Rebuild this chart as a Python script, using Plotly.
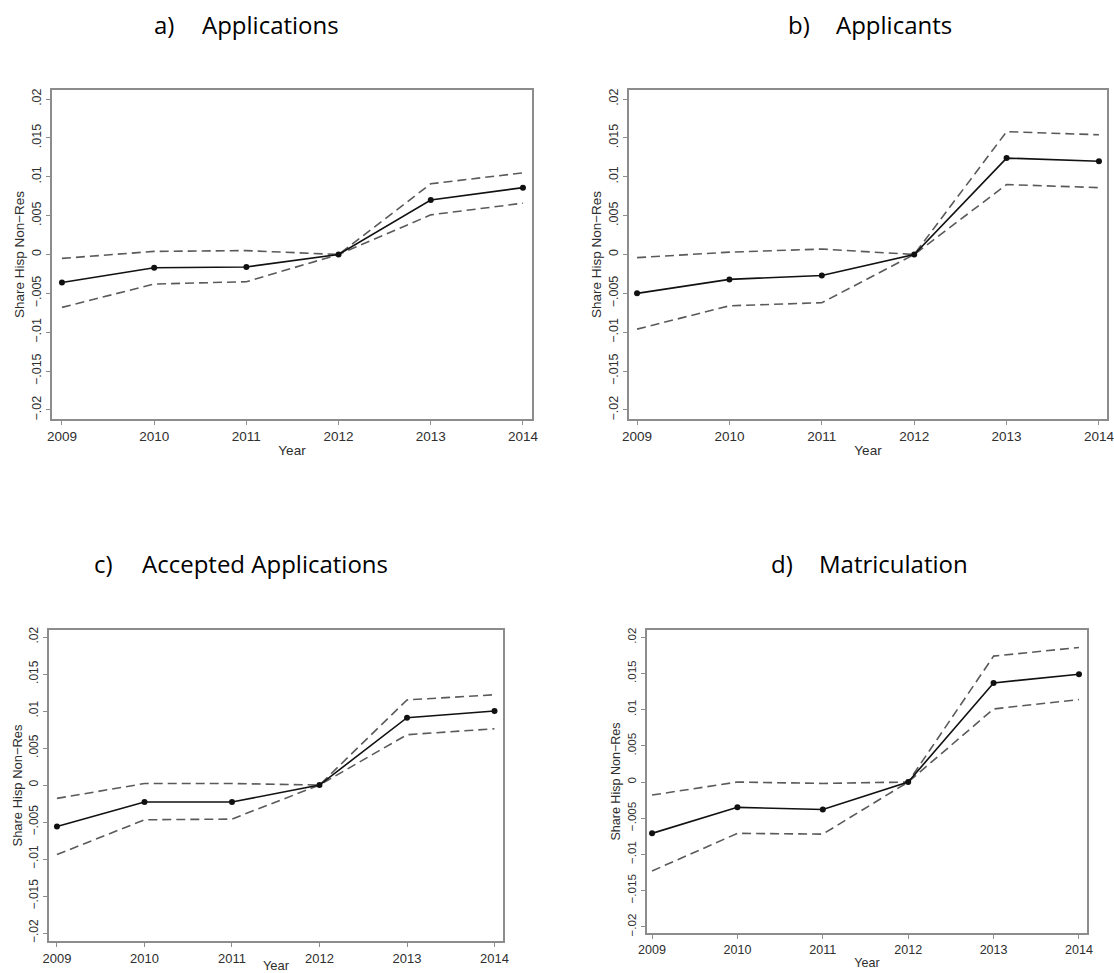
import plotly.graph_objects as go

# ---------------- data ----------------
years = [2009, 2010, 2011, 2012, 2013, 2014]
year_labels = ["2009", "2010", "2011", "2012", "2013", "2014"]

y_tick_vals = [0.02, 0.015, 0.01, 0.005, 0.0, -0.005, -0.01, -0.015, -0.02]
y_tick_text = [".02", ".015", ".01", ".005", "0", "\u2212.005", "\u2212.01", "\u2212.015", "\u2212.02"]

panel_letters = ["a)", "b)", "c)", "d)"]
panel_names = ["Applications", "Applicants", "Accepted Applications", "Matriculation"]

a_mean = [-0.0036, -0.0017, -0.0016, 0.0, 0.0070, 0.0086]
a_upper = [-0.0005, 0.0004, 0.0005, 0.0, 0.0091, 0.0105]
a_lower = [-0.0068, -0.0038, -0.0035, 0.0, 0.0051, 0.0066]

b_mean = [-0.0050, -0.0032, -0.0027, 0.0, 0.0124, 0.0120]
b_upper = [-0.0004, 0.0003, 0.0007, 0.0, 0.0158, 0.0154]
b_lower = [-0.0096, -0.0066, -0.0062, 0.0, 0.0090, 0.0086]

c_mean = [-0.0056, -0.0023, -0.0023, 0.0, 0.0091, 0.0100]
c_upper = [-0.0018, 0.0002, 0.0002, 0.0, 0.0115, 0.0122]
c_lower = [-0.0094, -0.0047, -0.0046, 0.0, 0.0068, 0.0076]

d_mean = [-0.0071, -0.0035, -0.0038, 0.0, 0.0137, 0.0149]
d_upper = [-0.0018, 0.0000, -0.0002, 0.0, 0.0174, 0.0186]
d_lower = [-0.0123, -0.0071, -0.0072, 0.0, 0.0101, 0.0114]

y_title = "Share Hisp Non\u2212Res"
x_title = "Year"

# ---------------- layout geometry (pixels) ----------------
W, H = 1114, 973

panels = [
    dict(mean=a_mean, up=a_upper, lo=a_lower, l=52, r=532, t=90, b=419,
         xr=[2008.892, 2014.098], yr=[-0.02116, 0.02116], fs=1.0, lx=152, nx=200, ty=25),
    dict(mean=b_mean, up=b_upper, lo=b_lower, l=629, r=1107, t=90, b=419,
         xr=[2008.913, 2014.087], yr=[-0.02116, 0.02116], fs=1.0, lx=786, nx=834, ty=25),
    dict(mean=c_mean, up=c_upper, lo=c_lower, l=49, r=503, t=630, b=941,
         xr=[2008.909, 2014.097], yr=[-0.02108, 0.02095], fs=0.96, lx=92, nx=140, ty=563),
    dict(mean=d_mean, up=d_upper, lo=d_lower, l=647, r=1087, t=630, b=933,
         xr=[2008.941, 2014.094], yr=[-0.02087, 0.02101], fs=0.93, lx=769, nx=817, ty=563),
]

fig = go.Figure()
frame_col = "#8c8c8c"
dash_col = "#5a5a5a"
text_col = "#2e2e2e"
tick_font = "Liberation Sans, Arial, sans-serif"
title_font = "Open Sans, sans-serif"

annotations = []
for i, p in enumerate(panels):
    n = "" if i == 0 else str(i + 1)
    xa, ya = "x" + n, "y" + n
    for series in (p["up"], p["lo"]):
        fig.add_trace(go.Scatter(
            x=years, y=series, xaxis=xa, yaxis=ya, mode="lines",
            line=dict(color=dash_col, width=1.6, dash="9px,5px"),
            showlegend=False, hoverinfo="skip"))
    fig.add_trace(go.Scatter(
        x=years, y=p["mean"], xaxis=xa, yaxis=ya, mode="lines+markers",
        line=dict(color="#111111", width=1.6),
        marker=dict(color="#111111", size=6, symbol="circle"),
        showlegend=False))

    fs = p["fs"]
    fig.update_layout(**{
        "xaxis" + n: dict(
            domain=[p["l"] / W, p["r"] / W], range=p["xr"], anchor=ya,
            tickmode="array", tickvals=years, ticktext=year_labels,
            ticks="outside", ticklen=4, tickcolor=frame_col, tickwidth=1,
            showline=True, linecolor=frame_col, linewidth=2, mirror=True,
            showgrid=False, zeroline=False, ticklabeloverflow="allow",
            tickfont=dict(family=tick_font, size=13.5 * fs, color=text_col),
            title=dict(text=x_title, standoff=2,
                       font=dict(family=tick_font, size=13.5 * fs, color=text_col)),
            automargin=False, fixedrange=True),
        "yaxis" + n: dict(
            domain=[1 - p["b"] / H, 1 - p["t"] / H], range=p["yr"], anchor=xa,
            tickmode="array", tickvals=y_tick_vals, ticktext=y_tick_text,
            tickangle=-90,
            ticks="outside", ticklen=4, tickcolor=frame_col, tickwidth=1,
            showline=True, linecolor=frame_col, linewidth=2, mirror=True,
            showgrid=False, zeroline=False, ticklabeloverflow="allow",
            tickfont=dict(family=tick_font, size=12.5 * fs, color=text_col),
            title=dict(text=y_title, standoff=2,
                       font=dict(family=tick_font, size=13.5 * fs, color=text_col)),
            automargin=False, fixedrange=True),
    })
    annotations.append(dict(
        text=panel_letters[i], x=p["lx"] / W, y=1 - p["ty"] / H,
        xref="paper", yref="paper", xanchor="left", yanchor="middle",
        showarrow=False, font=dict(family=title_font, size=24, color="#000000")))
    annotations.append(dict(
        text=panel_names[i], x=p["nx"] / W, y=1 - p["ty"] / H,
        xref="paper", yref="paper", xanchor="left", yanchor="middle",
        showarrow=False, font=dict(family=title_font, size=24, color="#000000")))

fig.update_layout(
    width=W, height=H,
    margin=dict(l=0, r=0, t=0, b=0),
    paper_bgcolor="white", plot_bgcolor="white",
    annotations=annotations,
    showlegend=False,
)

fig.write_html(
    "out.html",
    config={"displayModeBar": False},
    post_script="document.body.style.margin='0';document.body.style.overflow='hidden';",
)
